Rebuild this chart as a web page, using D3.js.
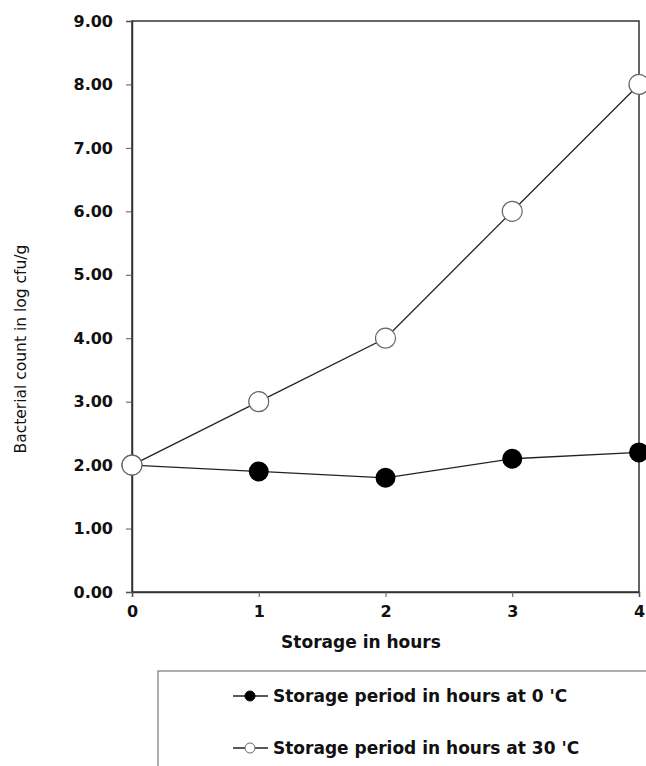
<!DOCTYPE html>
<meta charset="utf-8">
<script src="https://d3js.org/d3.v7.min.js"></script>
<style>
  body { margin: 0; background: #fff; }
  text { font-family: "DejaVu Sans", sans-serif; fill: #111; }
</style>
<div id="chart"></div>
<script>
  // data
  const hours = [0, 1, 2, 3, 4]
  const at0 = [2.0, 1.9, 1.8, 2.1, 2.2]
  const at30 = [2.0, 3.0, 4.0, 6.0, 8.0]
  const yTicks = [0, 1, 2, 3, 4, 5, 6, 7, 8, 9]
  const legendLabels = ["Storage period in hours at 0 'C", "Storage period in hours at 30 'C"]

  const width = 646, height = 766
  const svg = d3.select("#chart").append("svg")
    .attr("width", width).attr("height", height)

  const x = d3.scaleLinear().domain([0, 4]).range([132, 639])
  const y = d3.scaleLinear().domain([0, 9]).range([592, 21])

  // frame
  svg.append("rect")
    .attr("x", x(0)).attr("y", y(9))
    .attr("width", x(4) - x(0)).attr("height", y(0) - y(9))
    .attr("fill", "none").attr("stroke", "#333").attr("stroke-width", 1.5)

  // y axis
  const yAxis = svg.append("g")
    .attr("transform", `translate(${x(0)},0)`)
    .call(d3.axisLeft(y).tickValues(yTicks).tickSize(6).tickPadding(13).tickFormat(d3.format(".2f")))
  yAxis.select(".domain").attr("stroke", "#333").attr("stroke-width", 1.5)
  yAxis.selectAll(".tick line").attr("stroke", "#555")
  yAxis.selectAll("text").attr("font-size", 16).attr("font-weight", "bold")
    .attr("font-family", "DejaVu Sans, sans-serif").attr("fill", "#111")

  // x axis
  const xAxis = svg.append("g")
    .attr("transform", `translate(0,${y(0)})`)
    .call(d3.axisBottom(x).tickValues(hours).tickSize(5).tickPadding(9).tickFormat(d3.format("d")))
  xAxis.select(".domain").attr("stroke", "#333").attr("stroke-width", 1.5)
  xAxis.selectAll(".tick line").attr("stroke", "#555")
  xAxis.selectAll("text").attr("font-size", 16).attr("font-weight", "bold")
    .attr("font-family", "DejaVu Sans, sans-serif").attr("fill", "#111")

  // axis titles
  svg.append("text")
    .attr("x", 361).attr("y", 648)
    .attr("text-anchor", "middle")
    .attr("font-size", 17).attr("font-weight", "bold")
    .text("Storage in hours")

  svg.append("text")
    .attr("transform", "translate(26,349) rotate(-90)")
    .attr("text-anchor", "middle")
    .attr("font-size", 15.5)
    .text("Bacterial count in log cfu/g")

  // lines
  const line = d3.line().x((d, i) => x(hours[i])).y(d => y(d))
  svg.append("path").datum(at30).attr("d", line)
    .attr("fill", "none").attr("stroke", "#222").attr("stroke-width", 1.3)
  svg.append("path").datum(at0).attr("d", line)
    .attr("fill", "none").attr("stroke", "#222").attr("stroke-width", 1.3)

  // markers
  svg.append("g").selectAll("circle").data(at30).join("circle")
    .attr("cx", (d, i) => x(hours[i])).attr("cy", d => y(d)).attr("r", 10)
    .attr("fill", "#fff").attr("stroke", "#666").attr("stroke-width", 1.2)
  svg.append("g").selectAll("circle").data(at0).join("circle")
    .attr("cx", (d, i) => x(hours[i])).attr("cy", d => y(d)).attr("r", 10)
    .attr("fill", "#000")
  // the 0h open marker sits on top in the figure
  svg.append("circle")
    .attr("cx", x(hours[0])).attr("cy", y(at30[0])).attr("r", 10)
    .attr("fill", "#fff").attr("stroke", "#666").attr("stroke-width", 1.2)

  // legend
  svg.append("rect")
    .attr("x", 158).attr("y", 671).attr("width", 520).attr("height", 120)
    .attr("fill", "none").attr("stroke", "#777").attr("stroke-width", 1.2)

  const leg = svg.append("g").selectAll("g").data(legendLabels).join("g")
    .attr("transform", (d, i) => `translate(0,${696 + i * 52})`)
  leg.append("line").attr("x1", 233).attr("x2", 268).attr("y1", 0).attr("y2", 0)
    .attr("stroke", "#222").attr("stroke-width", 1.3)
  leg.append("circle").attr("cx", 250).attr("cy", 0).attr("r", 5)
    .attr("fill", (d, i) => i === 0 ? "#000" : "#fff")
    .attr("stroke", (d, i) => i === 0 ? "#000" : "#666")
  leg.append("text").attr("x", 273).attr("y", 6)
    .attr("font-size", 17).attr("font-weight", "bold")
    .text(d => d)
</script>
